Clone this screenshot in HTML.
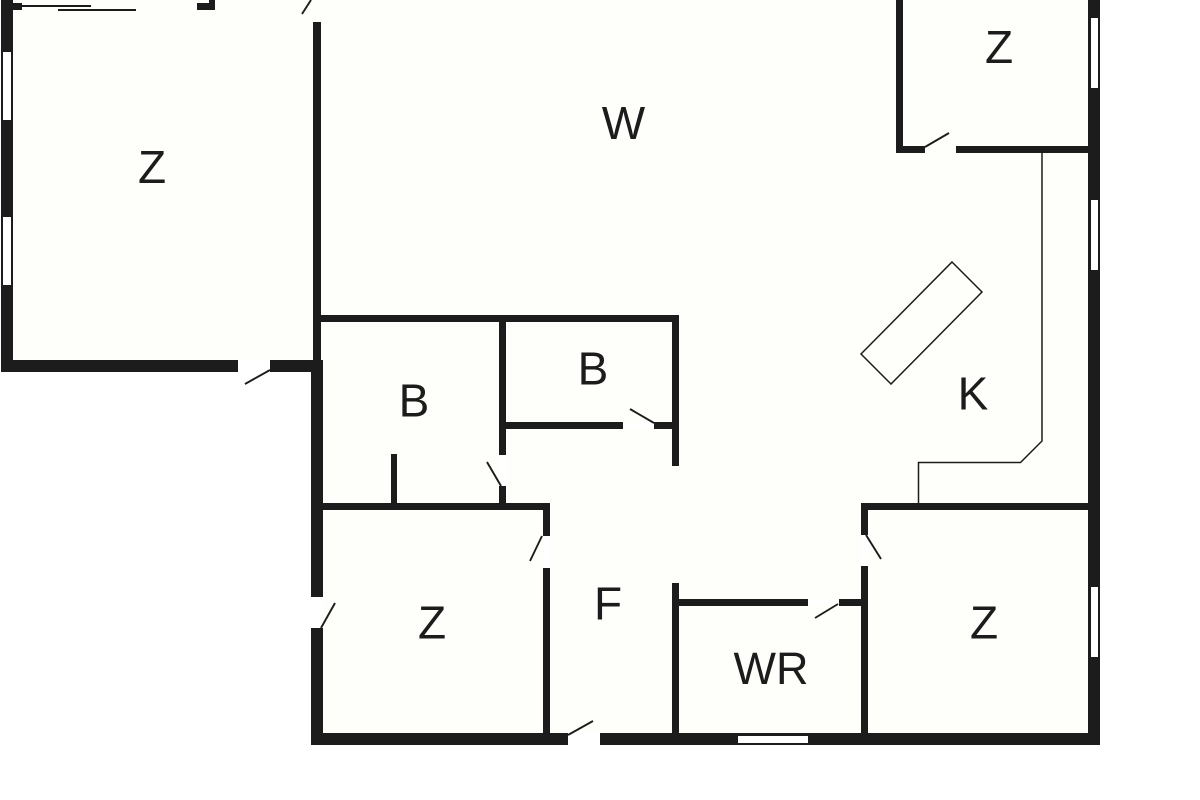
<!DOCTYPE html>
<html><head><meta charset="utf-8"><style>html,body{margin:0;padding:0;background:#fff}svg{display:block}text{font-family:"Liberation Sans",sans-serif;font-size:46px;fill:#1c1c1c;text-anchor:middle}</style></head><body>
<svg width="1200" height="800" viewBox="0 0 1200 800" xmlns="http://www.w3.org/2000/svg">
<polygon points="1,0 1100,0 1100,745 311,745 311,372 1,372" fill="#fefefa"/>
<g fill="#1c1c1c">
<!-- left room -->
<rect x="1" y="0" width="12" height="372"/>
<rect x="1" y="360" width="237" height="12"/>
<rect x="270" y="360" width="53" height="12"/>
<rect x="313" y="22" width="8" height="340"/>
<rect x="311" y="360" width="12" height="237"/>
<rect x="311" y="628" width="12" height="117"/>
<!-- top left details -->
<rect x="13" y="3" width="9" height="7"/>
<rect x="197" y="3" width="18" height="7"/>
<rect x="209" y="0" width="6" height="9"/>
<!-- B rooms -->
<rect x="320" y="315" width="359" height="7"/>
<rect x="499" y="315" width="7" height="140"/>
<rect x="499" y="486" width="7" height="20"/>
<rect x="506" y="422" width="117" height="7"/>
<rect x="654" y="422" width="20" height="7"/>
<rect x="672" y="315" width="7" height="151"/>
<rect x="391" y="454" width="6" height="50"/>
<rect x="323" y="503" width="227" height="7"/>
<rect x="543" y="503" width="7" height="33"/>
<rect x="543" y="568" width="7" height="168"/>
<!-- bottom wall -->
<rect x="311" y="733" width="257" height="12"/>
<rect x="600" y="733" width="500" height="12"/>
<!-- WR -->
<rect x="672" y="583" width="7" height="152"/>
<rect x="679" y="599" width="129" height="7"/>
<rect x="839" y="599" width="24" height="7"/>
<rect x="861" y="503" width="7" height="32"/>
<rect x="861" y="566" width="7" height="168"/>
<rect x="861" y="503" width="228" height="7"/>
<!-- right -->
<rect x="1088" y="0" width="12" height="745"/>
<rect x="896" y="0" width="7" height="153"/>
<rect x="896" y="146" width="29" height="7"/>
<rect x="956" y="146" width="133" height="7"/>
</g>
<!-- windows and door openings -->
<g fill="#fff">
<rect x="3" y="52" width="8" height="68"/>
<rect x="3" y="217" width="8" height="68"/>
<rect x="1091" y="18" width="7" height="70"/>
<rect x="1091" y="200" width="7" height="70"/>
<rect x="1091" y="587" width="7" height="70"/>
<rect x="738" y="736" width="70" height="7"/>
<rect x="238" y="360" width="32" height="12"/>
<rect x="311" y="597" width="12" height="31"/>
<rect x="568" y="733" width="32" height="12"/>
<rect x="499" y="455" width="7" height="31"/>
<rect x="623" y="422" width="31" height="7"/>
<rect x="543" y="536" width="7" height="32"/>
<rect x="808" y="599" width="31" height="7"/>
<rect x="861" y="535" width="7" height="31"/>
</g>
<!-- door swings and thin lines -->
<g stroke="#1c1c1c" stroke-width="1.9" fill="none">
<line x1="270" y1="370" x2="245" y2="384"/>
<line x1="501" y1="486" x2="487" y2="462"/>
<line x1="654" y1="423" x2="630" y2="409"/>
<line x1="542" y1="536" x2="530" y2="561"/>
<line x1="321" y1="628" x2="335" y2="603"/>
<line x1="568" y1="735" x2="593" y2="721"/>
<line x1="838" y1="604" x2="815" y2="618"/>
<line x1="866" y1="535" x2="881" y2="559"/>
<line x1="925" y1="147" x2="949" y2="133"/>
<line x1="302" y1="14" x2="311" y2="0"/>
<line x1="22" y1="6" x2="91" y2="6"/>
<line x1="58" y1="10" x2="136" y2="10"/>
</g>
<g stroke="#1c1c1c" stroke-width="1.5" fill="none">
<polyline points="1042,153 1042,441 1020.500,462.500 918.500,462.500 918.500,503"/>
<polygon points="952,262 982,292 891,384 861,354"/>
</g>
<text x="152" y="183">Z</text>
<text x="623.500" y="139">W</text>
<text x="999" y="63">Z</text>
<text x="593" y="384.500">B</text>
<text x="414" y="416.500">B</text>
<text x="973" y="409.500">K</text>
<text x="608" y="619.500">F</text>
<text x="432" y="638.500">Z</text>
<text x="984" y="638.500">Z</text>
<text x="771" y="684" style="font-size:45px">WR</text>
</svg>
</body></html>
